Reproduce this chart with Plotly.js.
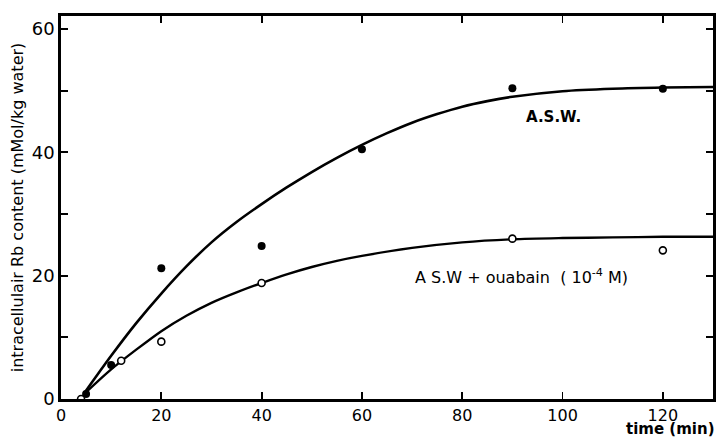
<!DOCTYPE html>
<html>
<head>
<meta charset="utf-8">
<script src="https://cdn.plot.ly/plotly-3.0.1.min.js"></script>
<style>html,body{margin:0;padding:0;background:#fff;}#chart{width:718px;height:439px;}</style>
</head>
<body>
<div id="chart"></div>
<script>
// Measured points (time in min, Rb content in mMol/kg water)
const aswTime = [5, 10, 20, 40, 60, 90, 120];
const aswRb = [0.8, 5.5, 21.2, 24.8, 40.5, 50.4, 50.3];
const ouaTime = [4, 12, 20, 40, 90, 120];
const ouaRb = [0, 6.2, 9.3, 18.8, 26.0, 24.1];

// Hand-drawn fitted curves
const aswCurveTime = [4.6, 10, 15, 20, 25, 30, 35, 40, 45, 50, 55, 60, 65, 70, 75, 80, 85, 90, 100, 110, 120, 130];
const aswCurveRb = [0.9, 7.0, 12.3, 17.1, 21.5, 25.4, 28.7, 31.6, 34.3, 36.8, 39.1, 41.2, 43.1, 44.8, 46.2, 47.4, 48.3, 49.0, 49.9, 50.3, 50.5, 50.6];
const ouaCurveTime = [4.6, 10, 15, 20, 25, 30, 35, 40, 45, 50, 55, 60, 70, 80, 90, 100, 110, 120, 130];
const ouaCurveRb = [0.8, 4.8, 8.0, 11.0, 13.5, 15.6, 17.3, 18.8, 20.2, 21.4, 22.4, 23.2, 24.5, 25.4, 25.9, 26.1, 26.2, 26.3, 26.3];

const xTickVals = [0, 20, 40, 60, 80, 100, 120];
const xTickText = ['0', '20', '40', '60', '80', '100', '120'];
const yTickVals = [0, 20, 40, 60];
const yTickText = ['0', '20', '40', '60'];
const yMinorTickVals = [10, 30, 50];

const FONT = 'DejaVu Sans, Liberation Sans, sans-serif';

const traces = [
  {x: aswCurveTime, y: aswCurveRb, mode: 'lines', line: {color: '#000', width: 2.6, shape: 'spline', smoothing: 0.8}, hoverinfo: 'skip', showlegend: false},
  {x: ouaCurveTime, y: ouaCurveRb, mode: 'lines', line: {color: '#000', width: 2.4, shape: 'spline', smoothing: 0.8}, hoverinfo: 'skip', showlegend: false},
  {x: aswTime, y: aswRb, mode: 'markers', marker: {symbol: 'circle', size: 8, color: '#000'}, showlegend: false},
  {x: ouaTime, y: ouaRb, mode: 'markers', marker: {symbol: 'circle', size: 7, color: '#fff', line: {color: '#000', width: 1.6}}, showlegend: false}
];

const layout = {
  width: 718, height: 439,
  margin: {l: 61, r: 5, t: 16, b: 40},
  paper_bgcolor: '#fff', plot_bgcolor: '#fff',
  font: {family: FONT, color: '#000', size: 17},
  xaxis: {
    range: [0, 130], tickvals: xTickVals, ticktext: xTickText,
    ticks: 'inside', ticklen: 7, tickwidth: 1.8, tickcolor: '#000',
    showline: true, linecolor: '#000', linewidth: 2.8, mirror: 'allticks',
    showgrid: false, zeroline: false,
    tickfont: {family: FONT, size: 16, color: '#000'}
  },
  yaxis: {
    range: [0, 62.1], tickvals: yTickVals, ticktext: yTickText,
    ticks: 'inside', ticklen: 7, tickwidth: 1.8, tickcolor: '#000',
    minor: {tickvals: yMinorTickVals, ticks: 'inside', ticklen: 7, tickwidth: 1.8, tickcolor: '#000', showgrid: false},
    showline: true, linecolor: '#000', linewidth: 2.8, mirror: 'allticks',
    showgrid: false, zeroline: false,
    tickfont: {family: FONT, size: 18, color: '#000'},
    title: {text: 'intracellulair Rb content (mMol/kg water)', font: {family: FONT, size: 16, color: '#000'}, standoff: 4}
  },
  annotations: [
    {x: 98.1, y: 45.7, xref: 'x', yref: 'y', text: '<b>A.S.W.</b>', showarrow: false, font: {family: FONT, size: 15, color: '#000'}},
    {x: 91.9, y: 19.8, xref: 'x', yref: 'y', text: 'A S.W + ouabain\u00a0\u00a0(\u00a010<sup>-4</sup>\u00a0M)', showarrow: false, font: {family: FONT, size: 16, color: '#000'}},
    {x: 1, y: 0, xref: 'paper', yref: 'paper', xanchor: 'right', yanchor: 'bottom', xshift: 3, yshift: -40, borderpad: 0, text: '<b>time (min)</b>', showarrow: false, font: {family: FONT, size: 15, color: '#000'}}
  ]
};

Plotly.newPlot('chart', traces, layout, {displayModeBar: false, staticPlot: true});
</script>
</body>
</html>
